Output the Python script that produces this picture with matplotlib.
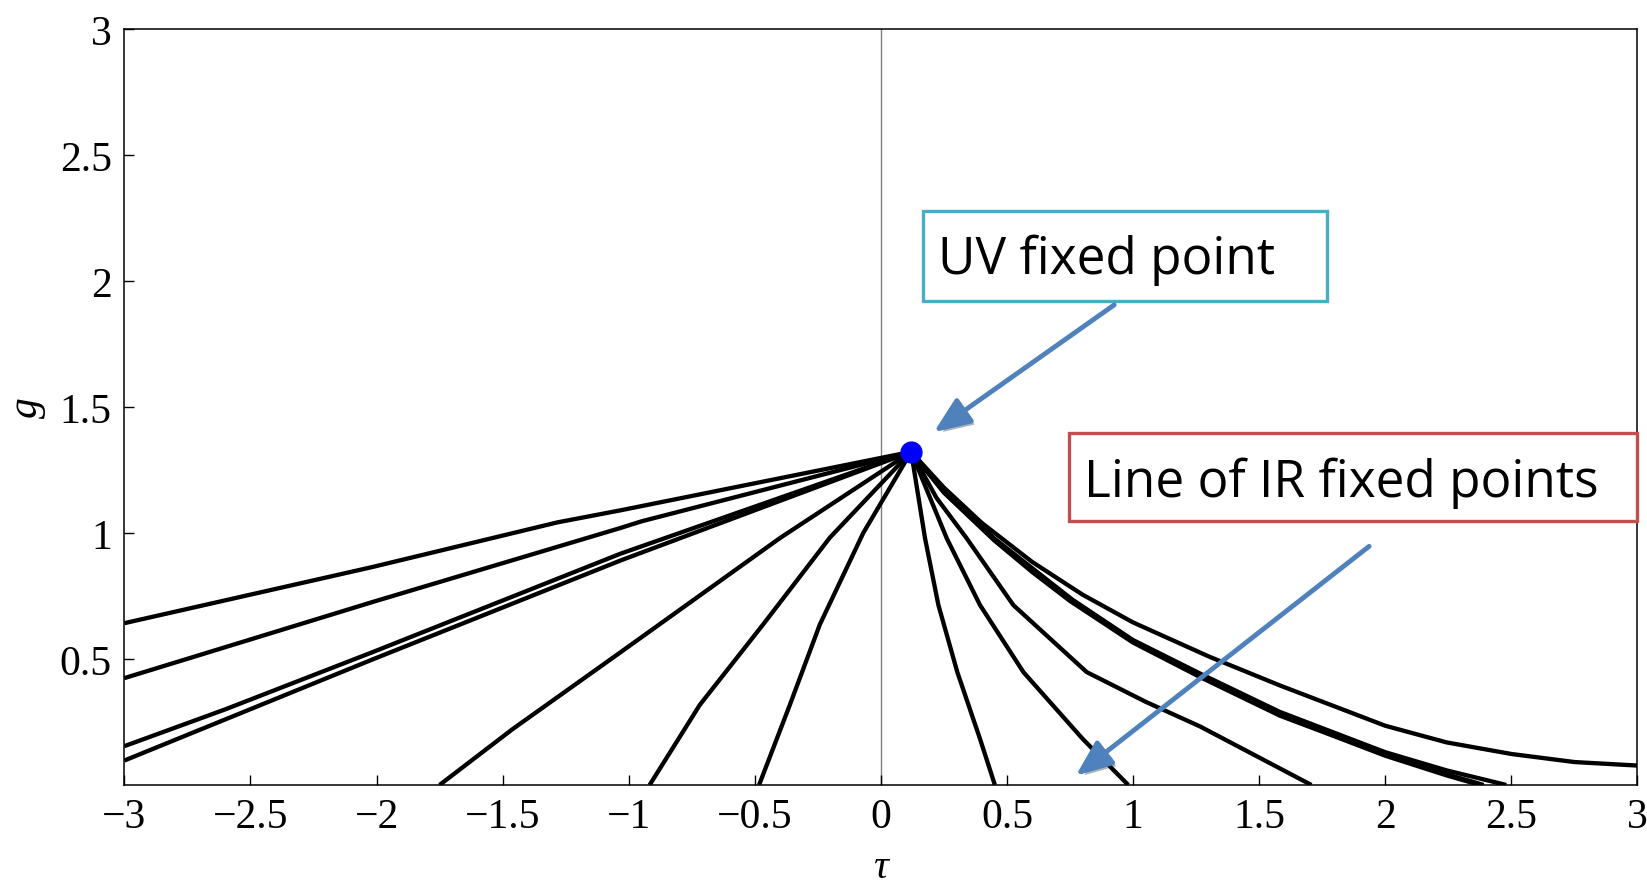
import matplotlib
matplotlib.use('Agg')
import matplotlib.pyplot as plt
import matplotlib.patheffects as pe
from matplotlib.patches import Rectangle

# fixed point
uv_tau = [0.12]
uv_g = [1.322]

# flow lines
c1_tau = [-3, -2.016, -1.283, -1.032, 0.12]
c1_g = [0.642, 0.865, 1.042, 1.09, 1.322]
c2_tau = [-3, -2.016, -1.032, -0.95, 0.12]
c2_g = [0.424, 0.726, 1.02, 1.046, 1.322]
c3_tau = [-3, -2.6, -2.016, -1.032, 0.12]
c3_g = [0.154, 0.30, 0.527, 0.918, 1.322]
c4_tau = [-3, -2.016, -1.032, 0.12]
c4_g = [0.097, 0.498, 0.891, 1.322]
c5_tau = [-1.75, -1.46, -1.032, -0.40, 0.12]
c5_g = [0, 0.222, 0.527, 0.98, 1.322]
c6_tau = [-0.917, -0.718, -0.467, -0.202, 0.12]
c6_g = [0, 0.318, 0.637, 0.982, 1.322]
c7_tau = [-0.483, -0.361, -0.242, -0.07, 0.12]
c7_g = [0, 0.318, 0.637, 1.0, 1.322]
c8_tau = [0.12, 0.175, 0.228, 0.303, 0.393, 0.452]
c8_g = [1.322, 0.979, 0.714, 0.448, 0.183, 0]
c9_tau = [0.12, 0.261, 0.393, 0.565, 0.80, 0.981]
c9_g = [1.322, 0.979, 0.714, 0.448, 0.183, 0]
c10_tau = [0.12, 0.22, 0.34, 0.525, 0.816, 1.05, 1.266, 1.707]
c10_g = [1.322, 1.14, 0.979, 0.714, 0.448, 0.33, 0.232, 0]
c11_tau = [0.12, 0.25, 0.45, 0.6, 0.75, 1.0, 1.266, 1.582, 1.791, 2.0, 2.243, 2.375]
c11_g = [1.322, 1.16, 0.97, 0.845, 0.73, 0.565, 0.428, 0.275, 0.196, 0.116, 0.038, 0]
c12_tau = [0.12, 0.25, 0.45, 0.6, 0.755, 1.0, 1.27, 1.582, 1.791, 2.0, 2.243, 2.39]
c12_g = [1.322, 1.162, 0.973, 0.85, 0.733, 0.57, 0.432, 0.28, 0.2, 0.12, 0.043, 0]
c13_tau = [0.12, 0.26, 0.45, 0.76, 1.0, 1.27, 1.582, 1.791, 2.0, 2.243, 2.48]
c13_g = [1.322, 1.16, 0.978, 0.735, 0.575, 0.44, 0.29, 0.21, 0.13, 0.058, 0]
c14_tau = [0.12, 0.25, 0.4, 0.6, 0.8, 1.0, 1.3, 1.582, 2.0, 2.243, 2.5, 2.75, 3.0]
c14_g = [1.322, 1.18, 1.04, 0.885, 0.755, 0.645, 0.51, 0.395, 0.235, 0.169, 0.123, 0.091, 0.077]

flows = [(c1_tau, c1_g), (c2_tau, c2_g), (c3_tau, c3_g), (c4_tau, c4_g),
         (c5_tau, c5_g), (c6_tau, c6_g), (c7_tau, c7_g), (c8_tau, c8_g),
         (c9_tau, c9_g), (c10_tau, c10_g), (c11_tau, c11_g), (c12_tau, c12_g),
         (c13_tau, c13_g), (c14_tau, c14_g)]

x_ticks = [-3, -2.5, -2, -1.5, -1, -0.5, 0, 0.5, 1, 1.5, 2, 2.5, 3]
x_labels = ['\u22123', '\u22122.5', '\u22122', '\u22121.5', '\u22121', '\u22120.5',
            '0', '0.5', '1', '1.5', '2', '2.5', '3']
y_ticks = [0.5, 1, 1.5, 2, 2.5, 3]
y_labels = ['0.5', '1', '1.5', '2', '2.5', '3']

serif = 'Liberation Serif'
box_font = 'Open Sans'
arrow_blue = '#4f81bd'

fig = plt.figure(figsize=(16.47, 8.87), dpi=100)
ax = fig.add_axes([0.0755, 0.1139, 0.9187, 0.8523])

ax.axvline(0, color='#7f7f7f', lw=1.0, zorder=1)
for t, g in flows:
    ax.plot(t, g, color='black', lw=3.1, solid_capstyle='butt',
            solid_joinstyle='round', zorder=2)
ax.plot(uv_tau, uv_g, 'o', color='#0000ff', markersize=15, zorder=5)

ax.set_xlim(-3, 3)
ax.set_ylim(0, 3)
ax.set_xticks(x_ticks)
ax.set_xticklabels(x_labels)
ax.set_yticks(y_ticks)
ax.set_yticklabels(y_labels)
ax.tick_params(direction='in', length=7, width=1, labelsize=30, pad=9)
for lab in ax.get_xticklabels() + ax.get_yticklabels():
    lab.set_fontfamily(serif)
for s in ax.spines.values():
    s.set_linewidth(1.1)

ax.set_xlabel('\u03c4', fontsize=30, family=serif, style='italic', labelpad=8)
ax.set_ylabel('g', fontsize=30, family=serif, style='italic', labelpad=10)

# annotation boxes
ax.add_patch(Rectangle((0.168, 1.921), 1.599, 0.356, fill=False,
                       edgecolor='#4bacc6', lw=2.4, clip_on=False, zorder=6))
ax.text(0.228, 2.03, 'UV fixed point', family=box_font, fontsize=37,
        va='baseline', ha='left', zorder=7)
ax.add_patch(Rectangle((0.747, 1.048), 2.253, 0.349, facecolor='white',
                       edgecolor='#c0504d', lw=2.4, clip_on=False, zorder=6))
ax.text(0.805, 1.147, 'Line of IR fixed points', family=box_font, fontsize=37,
        va='baseline', ha='left', zorder=7)

shadow = [pe.SimplePatchShadow(offset=(2.5, -2.5), alpha=0.35), pe.Normal()]
arrow_props = dict(arrowstyle='-|>,head_length=1.1,head_width=0.45',
                   mutation_scale=20, color=arrow_blue, lw=3.5,
                   shrinkA=0, shrinkB=0, path_effects=shadow)
ax.annotate('', xy=(0.21, 1.40), xytext=(0.925, 1.905),
            arrowprops=arrow_props, zorder=8)
ax.annotate('', xy=(0.773, 0.037), xytext=(1.936, 0.947),
            arrowprops=arrow_props, zorder=8)

fig.savefig('out.png', dpi=100)
